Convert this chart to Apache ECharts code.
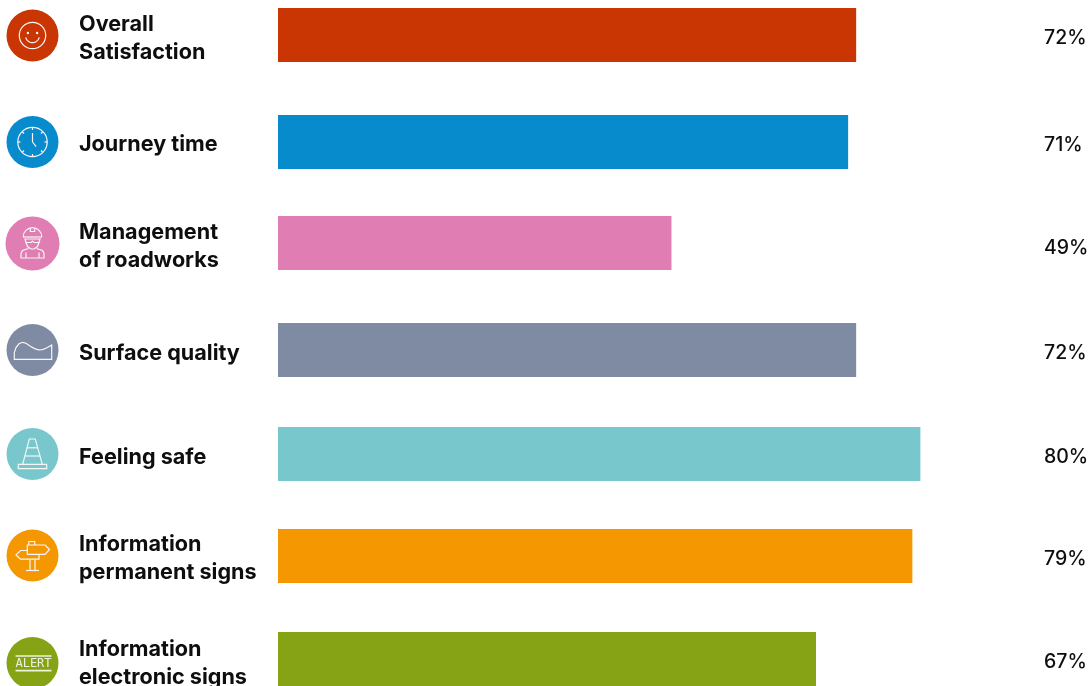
<!DOCTYPE html>
<html>
<head>
<meta charset="utf-8">
<style>html,body{margin:0;padding:0;background:#fff}#chart{width:1088px;height:686px}</style>
<script src="https://cdn.jsdelivr.net/npm/echarts@6/dist/echarts.min.js"></script>
</head>
<body>
<div id="chart"></div>
<script>
// Survey scores by aspect of the journey
const categories = ['Overall\nSatisfaction', 'Journey time', 'Management\nof roadworks', 'Surface quality', 'Feeling safe', 'Information\npermanent signs', 'Information\nelectronic signs'];
const scores = [72, 71, 49, 72, 80, 79, 67];
const colours = ['#C93603', '#088BCD', '#E07DB3', '#7F8AA3', '#78C7CD', '#F59700', '#86A315'];

// Row layout: vertical centres of bar, name, value and icon disc
const barCentres = [35, 142, 243, 350, 454, 556, 659];
const nameCentres = [38.5, 144, 246.5, 353, 457, 558, 663];
const valueCentres = [38, 145, 248, 353, 457, 559, 662];
const iconCentres = [35.5, 142, 243.5, 350, 454, 555.5, 663];
const iconRadii = [26, 26, 27, 26, 26, 26, 26];

const INK = '#0e0e0e';
const GLYPH = { stroke: '#f6f6f6', fill: 'none', lineWidth: 1.2 };
const line = (x1, y1, x2, y2, style) => ({ type: 'line', shape: { x1, y1, x2, y2 }, style: style || GLYPH, silent: true });
const poly = (points, closed) => ({ type: closed ? 'polygon' : 'polyline', shape: { points }, style: GLYPH, silent: true });
const ring = (cx, cy, r) => ({ type: 'circle', shape: { cx, cy, r }, style: GLYPH, silent: true });
const dot = (cx, cy, r) => ({ type: 'circle', shape: { cx, cy, r }, style: { fill: GLYPH.stroke }, silent: true });
const arc = (cx, cy, r, startAngle, endAngle) => ({ type: 'arc', shape: { cx, cy, r, startAngle, endAngle, clockwise: true }, style: GLYPH, silent: true });

// Pictograms, drawn around their disc centre
const smiley = () => [ring(0, 0, 13.2), dot(-4.6, -2.5, 1.2), dot(4.6, -2.5, 1.2), arc(0, 0.2, 7, 0.25, Math.PI - 0.25)];

function clock() {
  const parts = [ring(0, 0, 14.7), line(0, 0, 0, -9), line(0, 0, 3.6, 4.6)];
  for (let k = 0; k < 8; k++) {
    const a = k * Math.PI / 4;
    parts.push(line(Math.sin(a) * 12, -Math.cos(a) * 12, Math.sin(a) * 14.7, -Math.cos(a) * 14.7));
  }
  return parts;
}

const worker = () => [
  arc(0, -6.5, 9.3, Math.PI, 2 * Math.PI),
  line(-9.5, -6.5, 9.5, -6.5),
  poly([[-2.2, -15.4], [-2.2, -12], [2.2, -12], [2.2, -15.4]]),
  poly([[-7.5, -4.5], [7.5, -4.5], [6.5, -1], [1.5, -1], [0, -2.5], [-1.5, -1], [-6.5, -1]], true),
  poly([[-6.5, -1], [-5, 3], [-1.5, 5.5], [1.5, 5.5], [5, 3], [6.5, -1]]),
  poly([[-4, 5], [-10, 7], [-11.5, 10], [-11.5, 14.5], [11.5, 14.5], [11.5, 10], [10, 7], [4, 5]]),
  line(-6.5, 9, -6.5, 14.5), line(6.5, 9, 6.5, 14.5)
];

const surface = () => [poly([
  [-18.2, 9.3], [-18.2, 2.6], [-16.5, -2.5], [-13.5, -6.2], [-10, -7.7], [-6.5, -6.8], [-2.5, -4], [2, -1.4], [6, -0.2], [10, -0.4],
  [14, -2], [19.2, -5], [19.2, 9.3]
], true)];

const cone = () => [
  poly([[-9.8, 10.3], [-3.2, -15], [2.8, -15], [9.8, 10.3]]),
  line(-7.6, 2, 7.6, 2), line(-5.4, -6.2, 5.4, -6.2),
  poly([[-14.2, 10.3], [14.2, 10.3], [14.2, 14.6], [-14.2, 14.6]], true)
];

const signpost = () => [
  poly([[-5.2, -10.5], [12.5, -10.5], [17, -6], [12.5, -1.2], [-5.2, -1.2]], true),
  poly([[-3.7, -10.5], [-3.7, -14], [2.2, -14], [2.2, -10.5]]),
  poly([[6.5, -1.2], [6.5, 3.7], [-12, 3.7], [-16.5, -0.6], [-12, -5], [-5.2, -5]]),
  line(-2.5, 3.7, -2.5, 15), line(2.5, 3.7, 2.5, 15),
  line(-6.5, 15, 6.5, 15)
];

const alertSign = () => {
  const bar = { stroke: '#eef2d8', lineWidth: 1.6 };
  return [
    line(-17, -7, 19, -7, bar), line(-17, 7.6, 19, 7.6, bar),
    { type: 'text', style: { text: 'ALERT', x: 1, y: 0.5, align: 'center', verticalAlign: 'middle', font: '12px "DejaVu Sans Mono"', fill: '#eef2d8' }, silent: true }
  ];
};

const pictograms = [smiley, clock, worker, surface, cone, signpost, alertSign];

const icons = categories.map((name, i) => ({
  type: 'group',
  x: 32.5,
  y: iconCentres[i],
  children: [
    { type: 'circle', shape: { cx: 0, cy: 0, r: iconRadii[i] }, style: { fill: colours[i] }, silent: true },
    ...pictograms[i]()
  ]
}));

// Each row has three stacked grids on the same 0-100 horizontal scale:
// one carries the bar, one the name label and one the value label.
const grids = [], xAxes = [], yAxes = [], series = [];
const HIDDEN = { axisLine: { show: false }, axisTick: { show: false } };

function addGrid(centre) {
  const index = grids.length;
  grids.push({ left: 278, width: 803, top: centre - 27, height: 54, outerBoundsMode: 'none' });
  xAxes.push({ gridIndex: index, type: 'value', min: 0, max: 100, show: false });
  return index;
}

categories.forEach((name, i) => {
  const barGrid = addGrid(barCentres[i]);
  yAxes.push({ gridIndex: barGrid, type: 'category', data: [name], show: false });
  series.push({
    type: 'bar', xAxisIndex: barGrid, yAxisIndex: barGrid, data: [scores[i]], barWidth: 54, silent: true,
    itemStyle: { color: colours[i] }
  });

  const nameGrid = addGrid(nameCentres[i]);
  yAxes.push({
    gridIndex: nameGrid, type: 'category', data: [name], position: 'left', ...HIDDEN,
    axisLabel: { margin: 199, align: 'left', color: INK, fontFamily: 'Inter', fontWeight: 700, fontSize: 21.6, lineHeight: 28 }
  });

  const valueGrid = addGrid(valueCentres[i]);
  yAxes.push({
    gridIndex: valueGrid, type: 'category', data: [scores[i] + '%'], position: 'right', ...HIDDEN,
    axisLabel: { inside: true, margin: 37, align: 'left', color: INK, fontFamily: 'Inter', fontWeight: 500, fontSize: 19.5 }
  });
});

const chart = echarts.init(document.getElementById('chart'), null, { renderer: 'canvas' });
chart.setOption({
  animation: false,
  backgroundColor: '#fff',
  tooltip: { show: false },
  grid: grids,
  xAxis: xAxes,
  yAxis: yAxes,
  series,
  graphic: { elements: icons }
});
</script>
</body>
</html>
